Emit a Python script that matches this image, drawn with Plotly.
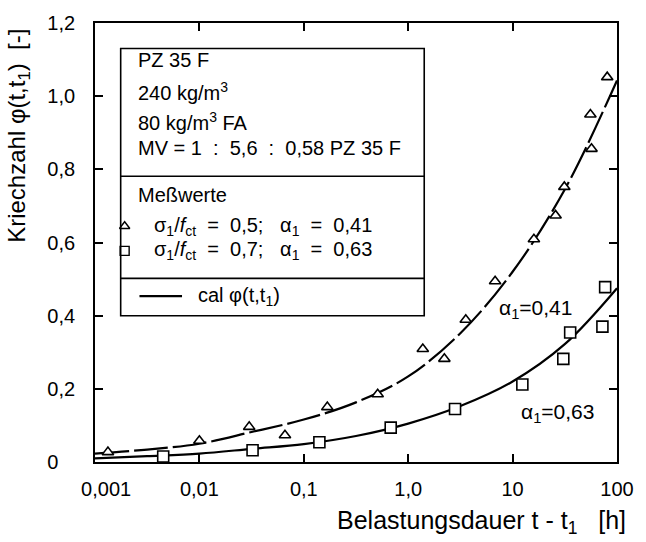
import plotly.graph_objects as go

# Measured creep values, sigma1/fct = 0.5 (alpha1 = 0.41)
t_tri = [0.00133, 0.01, 0.030, 0.066, 0.168, 0.51, 1.38, 2.22, 3.56, 6.8, 16.0, 25.8, 31.3, 57.0, 55.6, 80.6]
phi_tri = [0.027, 0.058, 0.096, 0.073, 0.150, 0.185, 0.309, 0.282, 0.389, 0.494, 0.609, 0.674, 0.752, 0.856, 0.950, 1.052]

# Measured creep values, sigma1/fct = 0.7 (alpha1 = 0.63)
t_sq = [0.0045, 0.0323, 0.141, 0.68, 2.81, 12.4, 30.6, 35.6, 72.5, 77.0]
phi_sq = [0.015, 0.032, 0.054, 0.094, 0.145, 0.212, 0.282, 0.354, 0.370, 0.478]

# Calculated creep curves cal phi(t,t1)
t_cal = [0.001, 0.00316, 0.01, 0.0316, 0.1, 0.316, 1.0, 3.16, 10.0, 31.6, 100.0]
phi_cal_041 = [0.023, 0.034, 0.050, 0.082, 0.116, 0.163, 0.234, 0.352, 0.52, 0.745, 1.043]
phi_cal_063 = [0.010, 0.016, 0.023, 0.036, 0.049, 0.071, 0.105, 0.153, 0.22, 0.322, 0.475]

NB = "\u00a0"

# Axis ticks
x_tickvals = [0.001, 0.01, 0.1, 1, 10, 100]
x_ticktext = [NB * 4 + "0,001", "0,01", "0,1", "1,0", "10", "100"]
y_tickvals = [0, 0.2, 0.4, 0.6, 0.8, 1.0, 1.2]
y_ticktext = ["0" + NB * 3, "0,2", "0,4", "0,6", "0,8", "1,0", "1,2"]

FONT = "Liberation Sans, Arial, Helvetica, sans-serif"
BLACK = "#000000"

fig = go.Figure()

fig.add_trace(go.Scatter(
    x=t_cal, y=phi_cal_041, mode="lines", line_shape="spline",
    line=dict(color=BLACK, width=2.2, dash="34px,5px"), showlegend=False, hoverinfo="skip"))
fig.add_trace(go.Scatter(
    x=t_cal, y=phi_cal_063, mode="lines", line_shape="spline",
    line=dict(color=BLACK, width=2.2), showlegend=False, hoverinfo="skip"))
fig.add_trace(go.Scatter(
    x=t_tri, y=phi_tri, mode="markers",
    marker=dict(symbol="triangle-up", size=10, color="white", line=dict(color=BLACK, width=1.6)),
    showlegend=False))
fig.add_trace(go.Scatter(
    x=t_sq, y=phi_sq, mode="markers",
    marker=dict(symbol="square", size=11, color="white", line=dict(color=BLACK, width=1.6)),
    showlegend=False))

# Key symbols drawn on an overlay axis spanning the plot area (0..1)
fig.add_trace(go.Scatter(
    x=[0.0568], y=[0.537], xaxis="x2", yaxis="y2", mode="markers",
    marker=dict(symbol="triangle-up", size=9, color="white", line=dict(color=BLACK, width=1.4)),
    showlegend=False, hoverinfo="skip"))
fig.add_trace(go.Scatter(
    x=[0.0568], y=[0.481], xaxis="x2", yaxis="y2", mode="markers",
    marker=dict(symbol="square", size=9, color="white", line=dict(color=BLACK, width=1.4)),
    showlegend=False, hoverinfo="skip"))
fig.add_trace(go.Scatter(
    x=[0.0852, 0.1667], y=[0.378, 0.378], xaxis="x2", yaxis="y2", mode="lines",
    line=dict(color=BLACK, width=2.2), showlegend=False, hoverinfo="skip"))

axis_common = dict(
    showline=True, linecolor=BLACK, linewidth=1.8, mirror="ticks",
    ticks="inside", ticklen=8, tickwidth=1.6, tickcolor=BLACK,
    showgrid=False, zeroline=False,
    tickfont=dict(family=FONT, size=20, color=BLACK),
)

fig.update_layout(
    width=646, height=542,
    margin=dict(l=95, r=23, t=15, b=80),
    paper_bgcolor="white", plot_bgcolor="white",
    font=dict(family=FONT, color=BLACK),
    xaxis=dict(type="log", range=[-3, 2], tickvals=x_tickvals, ticktext=x_ticktext,
               ticklabelstandoff=8, **axis_common),
    yaxis=dict(range=[0, 1.2], tickvals=y_tickvals, ticktext=y_ticktext,
               ticklabelstandoff=14, **axis_common),
    xaxis2=dict(overlaying="x", range=[0, 1], visible=False, fixedrange=True),
    yaxis2=dict(overlaying="y", range=[0, 1], visible=False, fixedrange=True),
)

# Key box with dividers
shapes = [
    dict(type="rect", xref="paper", yref="paper", x0=0.0492, x1=0.6307, y0=0.3333, y1=0.9418,
         line=dict(color=BLACK, width=1.6), fillcolor="rgba(0,0,0,0)"),
    dict(type="line", xref="paper", yref="paper", x0=0.0492, x1=0.6307, y0=0.651, y1=0.651,
         line=dict(color=BLACK, width=1.6)),
    dict(type="line", xref="paper", yref="paper", x0=0.0492, x1=0.6307, y0=0.4183, y1=0.4183,
         line=dict(color=BLACK, width=1.6)),
]
fig.update_layout(shapes=shapes)

key_font = dict(family=FONT, size=20, color=BLACK)
sigma_row = ("σ<sub>1</sub>/<i>f</i><sub>ct</sub>" + NB * 2 + "=" + NB * 2 + "{s};" + NB * 3
             + "α<sub>1</sub>" + NB * 2 + "=" + NB * 2 + "{a}")
key_rows = [
    (0.0777, 0.915, "PZ 35 F"),
    (0.0777, 0.8434, "240 kg/m<sup>3</sup>"),
    (0.0777, 0.7763, "80 kg/m<sup>3</sup> FA"),
    (0.0777, 0.7159, "MV = 1" + NB * 2 + ":" + NB * 2 + "5,6" + NB * 2 + ":" + NB * 2 + "0,58 PZ 35 F"),
    (0.0777, 0.6085, "Meßwerte"),
    (0.1098, 0.537, sigma_row.format(s="0,5", a="0,41")),
    (0.1098, 0.481, sigma_row.format(s="0,7", a="0,63")),
    (0.1932, 0.3781, "cal φ(t,t<sub>1</sub>)"),
]
for x, y, txt in key_rows:
    fig.add_annotation(x=x, y=y, xref="paper", yref="paper", text=txt, showarrow=False,
                       xanchor="left", yanchor="middle", font=key_font)

# Curve labels
label_font = dict(family=FONT, size=21, color=BLACK)
fig.add_annotation(x=0.8447, y=0.3474, xref="paper", yref="paper", text="α<sub>1</sub>=0,41",
                   showarrow=False, xanchor="center", yanchor="middle", font=label_font)
fig.add_annotation(x=0.8864, y=0.1125, xref="paper", yref="paper", text="α<sub>1</sub>=0,63",
                   showarrow=False, xanchor="center", yanchor="middle", font=label_font)

# Axis titles
fig.add_annotation(x=0.7405, y=-0.1365, xref="paper", yref="paper",
                   text="Belastungsdauer t - t<sub>1</sub>" + NB * 3 + "[h]",
                   showarrow=False, xanchor="center", yanchor="middle",
                   font=dict(family=FONT, size=25, color=BLACK))
fig.add_annotation(x=-0.1458, y=0.7427, xref="paper", yref="paper",
                   text="Kriechzahl φ(t,t<sub>1</sub>)" + NB * 2 + "[-]", textangle=-90,
                   showarrow=False, xanchor="center", yanchor="middle",
                   font=dict(family=FONT, size=24, color=BLACK))

fig.write_html("out.html")
